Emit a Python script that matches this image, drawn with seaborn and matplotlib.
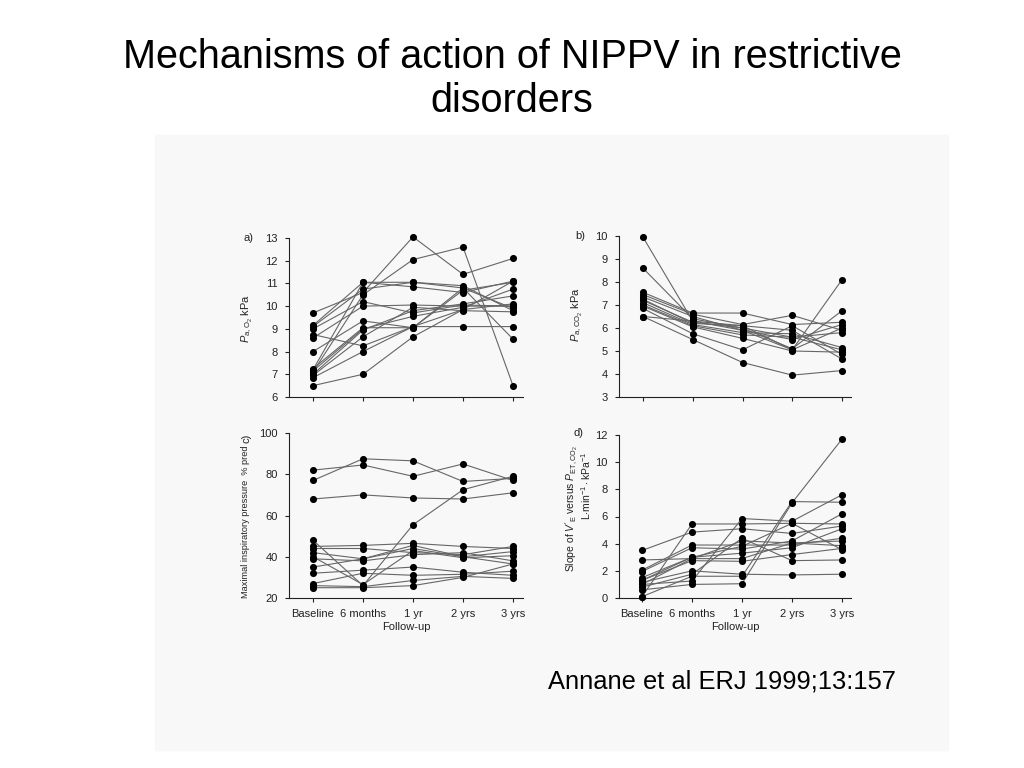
import numpy as np
import pandas as pd
import matplotlib
matplotlib.use("Agg")
import matplotlib.pyplot as plt
import seaborn as sns

# --- data (one row per patient) ---
visits = ["Baseline", "6 months", "1 yr", "2 yrs", "3 yrs"]

pao2 = [
    [6.5, 7.0, 8.65, 9.85, 10.1],
    [9.7, 10.6, 13.05, 11.4, 12.1],
    [7.1, 10.5, 12.05, 12.6, 6.5],
    [7.2, 11.05, 11.05, 10.9, 9.8],
    [9.15, 11.05, 10.85, 10.6, 11.1],
    [9.1, 10.75, 11.05, 10.8, 9.9],
    [9.0, 10.2, 9.7, 10.05, 10.0],
    [8.75, 8.25, 9.1, 9.1, 9.1],
    [8.6, 10.0, 10.05, 10.0, 10.0],
    [8.0, 9.35, 9.05, 10.8, 8.55],
    [7.25, 9.05, 9.05, 10.7, 11.05],
    [7.15, 9.0, 9.55, 9.95, 10.75],
    [7.0, 8.95, 9.8, 10.1, 10.45],
    [6.95, 8.65, 9.95, 9.8, 9.75],
    [6.85, 8.0, 9.1, 9.85, 11.1],
]

paco2 = [
    [9.95, 6.3, 6.1, 5.05, 8.1],
    [8.6, 6.4, 6.0, 5.1, 6.75],
    [7.55, 6.65, 6.65, 6.15, 6.25],
    [7.45, 6.6, 6.15, 6.55, 5.9],
    [7.35, 6.5, 5.9, 5.5, 6.15],
    [7.25, 6.2, 6.1, 5.9, 4.65],
    [7.1, 6.15, 5.8, 5.75, 5.15],
    [7.0, 6.1, 5.7, 5.6, 5.05],
    [6.95, 6.05, 5.55, 5.0, 4.95],
    [6.85, 5.75, 5.05, 6.1, 4.85],
    [6.5, 5.5, 4.5, 3.95, 4.15],
    [6.5, 6.3, 5.9, 5.05, 6.0],
    [7.2, 6.25, 6.0, 5.6, 5.8],
]

mip = [
    [77, 87.5, 86.5, 76.5, 78],
    [82, 84.5, 79, 85, 77],
    [68, 70, 68.5, 68, 71],
    [48, 26, 55.5, 72.5, 79],
    [45, 45.5, 46.5, 45, 44],
    [44, 44, 42, 41, 45],
    [42, 39, 45.5, 40, 42.5],
    [40, 26.5, 43, 39.5, 40.5],
    [39, 38, 41, 42, 38],
    [35, 39, 44, 40, 36.5],
    [32, 33.5, 35, 32.5, 31],
    [27, 32, 31, 31.5, 33],
    [26, 25.5, 28.5, 30.5, 29.5],
    [25, 25, 26, 30, 36.5],
]

slope = [
    [3.5, 4.85, 5.1, 4.75, 5.3],
    [0.1, 5.45, 5.45, 5.5, 5.45],
    [0.6, 1.0, 1.05, 7.0, 11.7],
    [1.0, 1.25, 5.85, 5.65, 7.6],
    [2.8, 2.9, 2.9, 4.05, 3.85],
    [2.05, 3.9, 3.9, 3.9, 4.4],
    [1.95, 3.7, 3.6, 4.2, 6.2],
    [1.5, 3.0, 3.3, 3.7, 5.1],
    [1.3, 2.75, 2.7, 3.2, 3.65],
    [1.15, 2.0, 1.75, 1.7, 1.75],
    [0.8, 1.75, 4.4, 2.75, 2.8],
    [0.1, 1.6, 1.6, 7.1, 7.05],
    [1.0, 2.9, 4.2, 4.05, 4.2],
    [1.3, 3.0, 3.8, 5.5, 3.55],
]


def long_df(rows):
    recs = []
    for pid, vals in enumerate(rows):
        for t, v in enumerate(vals):
            recs.append({"pid": pid, "t": t, "val": v})
    return pd.DataFrame(recs)


sns.set_style("ticks")
plt.rcParams["font.family"] = ["Liberation Sans", "DejaVu Sans"]
plt.rcParams["mathtext.fontset"] = "custom"
plt.rcParams["mathtext.rm"] = "Liberation Sans"
plt.rcParams["mathtext.it"] = "Liberation Sans:italic"

W, H = 1024, 768
fig = plt.figure(figsize=(W / 100, H / 100), dpi=100)
fig.patch.set_facecolor("white")

# faint scanned page behind the figure
fig.patches.append(plt.Rectangle((155 / W, 1 - 750 / H), (948 - 155) / W, (750 - 135) / H,
                                 transform=fig.transFigure, color="#f8f8f8", zorder=-5))

ink = "#222222"
line_c = "#666666"
fs = 8


def px_axes(left, right, top, bottom):
    return fig.add_axes([left / W, 1 - bottom / H, (right - left) / W, (bottom - top) / H])


def panel(rows, box, x0, x4, ylim, yticks, show_x):
    left, right, top, bottom = box
    ax = px_axes(left, right, top, bottom)
    ax.set_facecolor("none")
    df = long_df(rows)
    sns.lineplot(data=df, x="t", y="val", units="pid", estimator=None, ax=ax,
                 color=line_c, lw=0.8, legend=False, clip_on=False)
    sns.scatterplot(data=df, x="t", y="val", ax=ax, color="black", s=26,
                    edgecolor="black", linewidth=0, legend=False, clip_on=False, zorder=3)
    step = (x4 - x0) / 4
    ax.set_xlim((left - x0) / step, (right - x0) / step)
    ax.set_ylim(*ylim)
    ax.set_yticks(yticks)
    ax.set_xticks(range(5))
    ax.set_xticklabels(visits if show_x else [])
    ax.set_xlabel("Follow-up" if show_x else "", fontsize=fs, color=ink, labelpad=2)
    ax.set_ylabel("")
    for s in ["top", "right"]:
        ax.spines[s].set_visible(False)
    for s in ["left", "bottom"]:
        ax.spines[s].set_color(ink)
        ax.spines[s].set_linewidth(0.8)
    ax.tick_params(colors=ink, labelsize=fs, length=3, width=0.8, pad=5)
    return ax


ax_a = panel(pao2, (289, 523, 238, 397), 313, 513, (6, 13), range(6, 14), False)
ax_b = panel(paco2, (619, 851, 236, 397), 643, 842, (3, 10), range(3, 11), False)
ax_c = panel(mip, (289, 523, 433, 598), 313, 513, (20, 100), range(20, 101, 20), True)
ax_d = panel(slope, (619, 851, 435, 598), 642, 842, (0, 12), range(0, 13, 2), True)


def ftext(x, y, s, **kw):
    fig.text(x / W, 1 - y / H, s, color=ink, **kw)


ftext(243, 238, "a)", fontsize=fs, ha="left", va="center")
ftext(575, 236, "b)", fontsize=fs, ha="left", va="center")
ftext(246, 438, "c)", fontsize=fs, ha="center", va="center", rotation=90)
ftext(573, 433, "d)", fontsize=fs, ha="left", va="center")

ftext(247, 318, r"$P_{\rm a,O_2}$ kPa", fontsize=fs, ha="center", va="center", rotation=90)
ftext(577, 315, r"$P_{\rm a,CO_2}$ kPa", fontsize=fs, ha="center", va="center", rotation=90)
ftext(246, 598, "Maximal inspiratory pressure  % pred", fontsize=6.6,
      ha="center", va="bottom", rotation=90)
ftext(572, 445, r"Slope of $V'_{\rm E}$ versus $P_{\rm ET,CO_2}$", fontsize=7.5,
      ha="center", va="top", rotation=90)
ftext(586, 452, r"L$\cdot$min$^{-1}\cdot$kPa$^{-1}$", fontsize=7.5,
      ha="center", va="top", rotation=90)

# slide title and citation
fig.text(0.5, 1 - 79 / H, "Mechanisms of action of NIPPV in restrictive\ndisorders",
         ha="center", va="center", fontsize=28.5, family="Liberation Sans",
         linespacing=1.22, color="black")
fig.text(548 / W, 1 - 682 / H, "Annane et al ERJ 1999;13:157", ha="left", va="center",
         fontsize=18.4, family="Liberation Sans", color="black")

fig.savefig("out.png", dpi=100)
